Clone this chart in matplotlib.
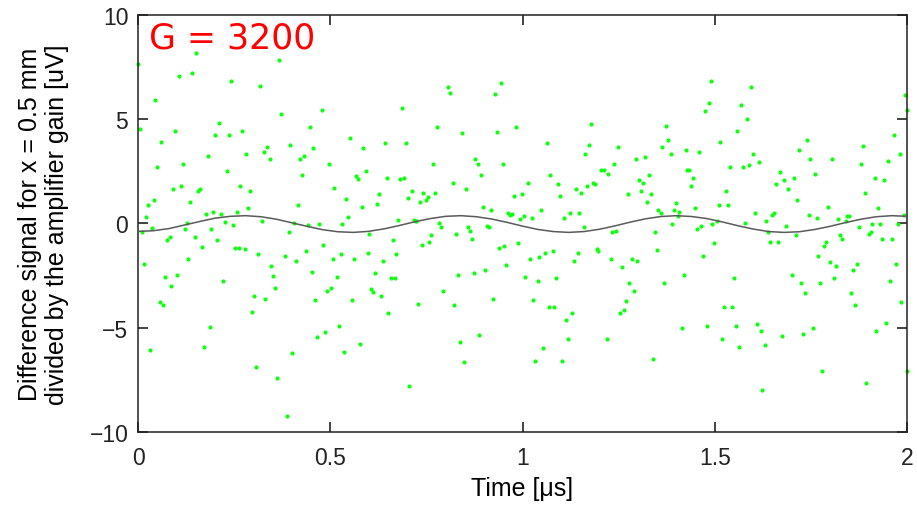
import matplotlib
matplotlib.use("Agg")
import matplotlib.pyplot as plt
import numpy as np

# difference signal samples (time [us], signal [uV]), by time window
pts_000_025 = [(0.00, 7.66), (0.150, 8.18), (0.106, 7.05), (0.140, 7.19), (0.045, 5.90), (0.005, 4.53),
               (0.211, 4.83), (0.095, 4.45), (0.201, 4.24), (0.061, 3.92), (0.181, 3.24), (0.116, 2.86),
               (0.050, 2.71), (0.090, 1.66), (0.111, 1.79), (0.157, 1.56), (0.161, 1.64), (0.041, 1.13),
               (0.026, 0.88), (0.021, 0.29), (0.136, 1.02), (0.176, 0.43), (0.196, 0.56), (0.215, 0.43),
               (0.226, 0.05), (0.127, 0.03), (0.121, -0.27), (0.190, -0.27), (0.010, -0.41), (0.036, -0.21),
               (0.082, -0.64), (0.076, -0.81), (0.147, -0.64), (0.167, -1.12), (0.206, -0.81), (0.131, -1.72),
               (0.016, -1.93), (0.070, -2.55), (0.101, -2.49), (0.086, -3.00), (0.221, -2.76), (0.056, -3.75),
               (0.066, -3.91), (0.186, -4.98), (0.172, -5.90), (0.031, -6.05)]
pts_025_050 = [(0.367, 7.82), (0.241, 6.83), (0.316, 6.60), (0.371, 5.23), (0.237, 4.24), (0.271, 4.45),
               (0.447, 4.61), (0.396, 3.78), (0.336, 3.68), (0.327, 3.41), (0.342, 3.08), (0.282, 3.32),
               (0.422, 3.09), (0.431, 3.24), (0.456, 3.62), (0.427, 2.33), (0.232, 2.49), (0.265, 1.80),
               (0.291, 1.56), (0.416, 0.88), (0.286, 0.73), (0.257, 0.57), (0.322, 0.11), (0.246, -0.10),
               (0.407, 0.03), (0.441, -0.10), (0.472, -0.03), (0.392, -0.43), (0.251, -1.18), (0.263, -1.18),
               (0.277, -1.24), (0.311, -1.47), (0.382, -1.56), (0.436, -1.32), (0.411, -1.79), (0.347, -2.03),
               (0.352, -2.54), (0.453, -2.31), (0.356, -3.09), (0.302, -3.46), (0.331, -3.62), (0.297, -4.23),
               (0.461, -3.68), (0.466, -5.44), (0.401, -6.22), (0.306, -6.89), (0.361, -7.42), (0.387, -9.25)]
pts_050_075 = [(0.478, 5.44), (0.687, 5.52), (0.552, 4.07), (0.642, 3.86), (0.697, 3.86), (0.586, 3.62),
               (0.497, 2.86), (0.592, 2.49), (0.566, 2.25), (0.571, 2.15), (0.648, 2.17), (0.681, 2.11),
               (0.693, 2.17), (0.511, 1.72), (0.713, 1.56), (0.628, 1.40), (0.702, 1.24), (0.542, 1.18),
               (0.622, 0.94), (0.582, 0.80), (0.547, 0.33), (0.531, -0.03), (0.677, 0.18), (0.718, 0.18),
               (0.722, 0.10), (0.602, -0.49), (0.481, -1.02), (0.527, -1.47), (0.506, -1.72), (0.562, -1.72),
               (0.597, -1.40), (0.637, -1.79), (0.662, -0.81), (0.672, -1.47), (0.518, -2.55), (0.617, -2.39),
               (0.657, -2.63), (0.668, -2.63), (0.491, -3.22), (0.502, -3.09), (0.607, -3.16), (0.612, -3.30),
               (0.632, -3.46), (0.557, -3.68), (0.651, -4.31), (0.486, -5.22), (0.523, -4.91), (0.577, -5.76),
               (0.536, -6.14), (0.706, -7.80)]
pts_075_100 = [(0.807, 6.52), (0.812, 6.27), (0.943, 6.73), (0.928, 6.20), (0.778, 4.61), (0.843, 4.31),
               (0.933, 4.39), (0.768, 2.86), (0.877, 3.08), (0.883, 2.86), (0.948, 2.86), (0.893, 2.33),
               (0.818, 1.95), (0.852, 1.64), (0.772, 1.48), (0.742, 1.48), (0.753, 1.26), (0.748, 1.13),
               (0.733, 1.02), (0.898, 0.80), (0.918, 0.65), (0.962, 0.49), (0.968, 0.41), (0.973, 0.45),
               (0.783, 0.03), (0.788, -0.19), (0.857, -0.19), (0.863, -0.35), (0.908, -0.13), (0.912, -0.19),
               (0.723, 0.11), (0.868, -0.73), (0.828, -0.49), (0.763, -0.57), (0.758, -0.89), (0.738, -1.02),
               (0.938, -1.18), (0.953, -1.10), (0.958, -2.01), (0.903, -2.23), (0.873, -2.39), (0.832, -2.47),
               (0.792, -3.22), (0.922, -3.62), (0.727, -3.84), (0.823, -3.92), (0.888, -5.36), (0.837, -5.68),
               (0.848, -6.65)]
pts_100_125 = [(0.982, 4.61), (1.178, 4.77), (1.064, 3.86), (1.173, 3.78), (1.163, 3.32), (1.205, 2.55),
               (1.213, 2.57), (1.072, 2.33), (1.013, 1.95), (1.093, 1.87), (1.138, 1.64), (1.168, 1.79),
               (1.184, 1.95), (1.189, 1.87), (1.153, 1.48), (0.978, 1.32), (0.999, 1.40), (1.098, 1.32),
               (1.048, 0.65), (1.124, 0.49), (1.148, 0.49), (1.108, 0.27), (1.004, 0.35), (0.994, 0.19),
               (1.024, 0.27), (1.159, -0.19), (0.987, -0.96), (1.019, -1.72), (1.044, -1.63), (1.058, -1.40),
               (1.079, -1.32), (1.144, -1.40), (1.133, -1.79), (1.194, -1.24), (1.197, -1.32), (1.007, -2.55),
               (1.039, -2.78), (1.088, -2.63), (1.028, -3.68), (1.068, -4.00), (1.083, -4.00), (1.128, -4.31),
               (1.114, -4.61), (1.118, -5.52), (1.053, -5.97), (1.033, -6.59), (1.104, -6.59)]
pts_125_150 = [(1.374, 4.69), (1.379, 4.00), (1.364, 3.68), (1.248, 3.68), (1.385, 3.32), (1.424, 3.54),
               (1.459, 3.40), (1.294, 3.08), (1.319, 3.16), (1.239, 2.86), (1.223, 2.39), (1.428, 2.55),
               (1.433, 2.55), (1.329, 2.33), (1.303, 2.09), (1.314, 1.95), (1.444, 2.17), (1.439, 1.79),
               (1.308, 1.56), (1.274, 1.40), (1.334, 1.40), (1.324, 1.02), (1.398, 0.96), (1.353, 0.65),
               (1.359, 0.49), (1.394, 0.65), (1.408, 0.57), (1.405, 0.35), (1.449, 0.73), (1.389, -0.03),
               (1.345, -0.43), (1.234, -0.43), (1.243, -0.35), (1.455, -0.27), (1.465, -0.13), (1.349, -1.26),
               (1.229, -1.72), (1.284, -1.72), (1.299, -1.79), (1.258, -2.11), (1.419, -2.47), (1.278, -2.86),
               (1.369, -2.86), (1.289, -3.24), (1.268, -3.70), (1.264, -4.15), (1.254, -4.31), (1.414, -4.99),
               (1.219, -5.52), (1.339, -6.51)]
pts_150_175 = [(1.489, 6.83), (1.594, 6.52), (1.484, 5.76), (1.474, 5.38), (1.569, 5.68), (1.584, 4.99),
               (1.559, 4.45), (1.514, 3.92), (1.599, 3.32), (1.614, 2.93), (1.539, 2.71), (1.573, 2.71),
               (1.590, 2.78), (1.669, 2.47), (1.679, 2.09), (1.659, 1.87), (1.690, 1.64), (1.705, 2.17),
               (1.529, 1.56), (1.510, 0.88), (1.535, 0.88), (1.605, 0.49), (1.649, 0.41), (1.654, 0.49),
               (1.634, 0.11), (1.505, 0.11), (1.494, -0.05), (1.579, 0.03), (1.684, -0.13), (1.639, -0.43),
               (1.644, -0.89), (1.664, -0.89), (1.710, -0.57), (1.469, -1.56), (1.499, -0.96), (1.549, -2.63),
               (1.700, -2.47), (1.524, -4.00), (1.544, -4.00), (1.479, -4.91), (1.554, -4.91), (1.609, -4.83),
               (1.619, -5.14), (1.674, -5.38), (1.520, -5.52), (1.564, -5.90), (1.630, -5.82), (1.624, -7.96)]
pts_175_200 = [(1.996, 6.14), (2.0, 5.45), (1.965, 4.23), (1.741, 4.00), (1.720, 3.54), (1.886, 3.70),
               (1.749, 3.08), (1.805, 3.08), (1.880, 2.86), (1.951, 3.01), (1.981, 3.32), (1.761, 2.39),
               (1.916, 2.17), (1.940, 2.09), (1.890, 1.48), (1.715, 1.13), (1.795, 0.80), (1.925, 0.73),
               (1.745, 0.41), (1.766, 0.27), (1.820, 0.19), (1.844, 0.35), (1.849, 0.35), (1.841, 0.11),
               (1.875, -0.19), (1.910, -0.05), (1.931, -0.05), (1.976, -0.05), (1.991, 0.41), (1.825, -0.57),
               (1.831, -0.73), (1.900, -0.49), (1.906, -0.43), (1.936, -0.73), (1.961, -0.73), (1.790, -0.88),
               (1.785, -1.10), (1.769, -1.56), (1.800, -1.87), (1.816, -2.03), (1.871, -1.95), (1.860, -2.25),
               (1.811, -2.63), (1.971, -1.95), (1.724, -2.86), (1.775, -2.86), (1.956, -2.78), (1.736, -3.32),
               (1.855, -3.32), (1.866, -3.92), (1.985, -3.76), (1.755, -4.99), (1.730, -5.30), (1.919, -5.14),
               (1.945, -4.77), (1.780, -7.05), (1.894, -7.66), (2.0, -7.05)]

# fitted (smooth) signal, read every 0.04 us
fit_t = [0.00, 0.04, 0.08, 0.12, 0.16, 0.20, 0.24, 0.28, 0.32, 0.36, 0.40, 0.44, 0.48, 0.52, 0.56, 0.60, 0.64,
         0.68, 0.72, 0.76, 0.80, 0.84, 0.88, 0.92, 0.96, 1.00, 1.04, 1.08, 1.12, 1.16, 1.20, 1.24, 1.28, 1.32,
         1.36, 1.40, 1.44, 1.48, 1.52, 1.56, 1.60, 1.64, 1.68, 1.72, 1.76, 1.80, 1.84, 1.88, 1.92, 1.96, 2.00]
fit_v = [-0.38, -0.35, -0.25, -0.08, 0.09, 0.25, 0.34, 0.37, 0.32, 0.20, 0.03, -0.14, -0.30, -0.40, -0.43, -0.38,
         -0.26, -0.10, 0.08, 0.23, 0.34, 0.37, 0.32, 0.21, 0.05, -0.13, -0.29, -0.39, -0.43, -0.39, -0.28, -0.12,
         0.06, 0.22, 0.33, 0.37, 0.33, 0.23, 0.07, -0.11, -0.27, -0.39, -0.43, -0.40, -0.29, -0.14, 0.04, 0.20,
         0.32, 0.37, 0.34]

gain_label = 'G = 3200'

pts = pts_000_025 + pts_025_050 + pts_050_075 + pts_075_100 + pts_100_125 + pts_125_150 + pts_150_175 + pts_175_200
t = np.array([p[0] for p in pts])
v = np.array([p[1] for p in pts])

plt.rcParams['font.family'] = ['Liberation Sans', 'DejaVu Sans']

fig = plt.figure(figsize=(9.17, 5.06), dpi=100)
ax = fig.add_axes([0.1505, 0.144, 0.8386, 0.825])

ax.plot(t, v, 'o', color='#11ff11', markersize=3.0, markeredgewidth=0, clip_on=False, zorder=2)
ax.plot(fit_t, fit_v, color='#5a5a5a', linewidth=1.1, zorder=3)

ax.set_xlim(0, 2)
ax.set_ylim(-10, 10)
ax.set_xticks([0, 0.5, 1, 1.5, 2])
ax.set_xticklabels(['0', '0.5', '1', '1.5', '2'])
ax.set_yticks([-10, -5, 0, 5, 10])
ax.set_yticklabels(['\u221210', '\u22125', '0', '5', '10'])
ax.tick_params(direction='in', length=7, width=1.2, top=True, right=True, labelsize=16.5, colors='#222222')
ax.tick_params(axis='x', pad=10)
ax.tick_params(axis='y', pad=7)
for s in ax.spines.values():
    s.set_linewidth(1.1)
    s.set_color('#222222')

ax.set_xlabel('Time [\u03bcs]', fontsize=18, labelpad=5)
ax.set_ylabel('Difference signal for x = 0.5 mm\ndivided by the amplifier gain [uV]', fontsize=18,
              linespacing=1.15, labelpad=15)

ax.text(0.014, 0.985, gain_label, transform=ax.transAxes, color='#ff0000', fontsize=25,
        family='DejaVu Sans', va='top', ha='left')

fig.savefig('out.png', dpi=100)
